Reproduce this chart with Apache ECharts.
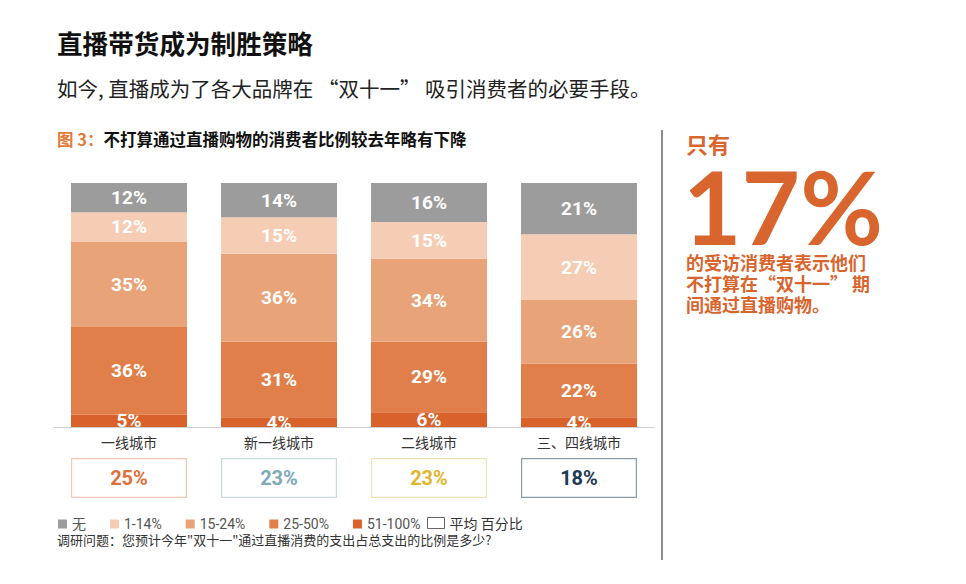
<!DOCTYPE html>
<html><head><meta charset="utf-8">
<script src="https://cdn.jsdelivr.net/npm/echarts@6/dist/echarts.min.js"></script>
<style>html,body{margin:0;padding:0;background:#fff}#c{width:966px;height:584px}</style>
</head><body><div id="c"></div>
<script>
const categories = ['一线城市', '新一线城市', '二线城市', '三、四线城市'];
const seriesNames = ['无', '1-14%', '15-24%', '25-50%', '51-100%'];
const none = [12, 14, 16, 21];
const p1_14 = [12, 15, 15, 27];
const p15_24 = [35, 36, 34, 26];
const p25_50 = [36, 31, 29, 22];
const p51_100 = [5, 4, 6, 4];
const averages = [25, 23, 23, 18];
const avgName = '平均 百分比';
const colors = ['#9c9c9c', '#f5cdb5', '#e8a478', '#e17f4b', '#d9622c'];
const avgText = ['#df6f3b', '#7ea9b9', '#e2b62c', '#1d3a55'];
const avgBorder = ['#f2c8b4', '#cbd8de', '#f0e2b4', '#8c9aa6'];

const stackData = [p51_100, p25_50, p15_24, p1_14, none];
const stackNames = ['51-100%', '25-50%', '15-24%', '1-14%', '无'];
const stackColors = [colors[4], colors[3], colors[2], colors[1], colors[0]];

const chart = echarts.init(document.getElementById('c'), null, {renderer: 'svg'});
const FONT = '"Noto Sans CJK SC", "Noto Sans", sans-serif';
const NUM = 'Roboto, "Noto Sans CJK SC", sans-serif';

const series = stackData.map((d, i) => ({
  name: stackNames[i], type: 'bar', stack: 'all', barWidth: 116,
  xAxisIndex: 0, yAxisIndex: 0,
  itemStyle: {color: stackColors[i]},
  label: {show: true, position: 'inside', color: '#fff', fontFamily: NUM, fontWeight: 'bold', fontSize: 19, formatter: '{c}%'},
  data: d
}));
series.push({
  name: avgName, type: 'bar', barWidth: 116, xAxisIndex: 1, yAxisIndex: 1,
  itemStyle: {color: '#fff', borderColor: '#777', borderWidth: 1},
  label: {show: true, position: 'inside', fontFamily: NUM, fontWeight: 'bold', fontSize: 20,
    formatter: p => averages[p.dataIndex] + '%'},
  data: averages.map((v, i) => ({value: 1, itemStyle: {borderColor: avgBorder[i], borderWidth: 1.2}, label: {color: avgText[i]}}))
});

chart.setOption({
  backgroundColor: '#fff',
  animation: false,
  grid: [
    {left: 54, width: 600, top: 183, height: 244},
    {left: 54, width: 600, top: 458, height: 40}
  ],
  xAxis: [
    {type: 'category', gridIndex: 0, data: categories,
      axisLine: {lineStyle: {color: '#cfcfcf', width: 1}}, axisTick: {show: false},
      axisLabel: {color: '#333', fontSize: 14, margin: 8, fontFamily: FONT}},
    {type: 'category', gridIndex: 1, data: categories, show: false}
  ],
  yAxis: [
    {type: 'value', gridIndex: 0, min: 0, max: 100, show: false},
    {type: 'value', gridIndex: 1, min: 0, max: 1, show: false}
  ],
  legend: [
    {left: 53, top: 512, icon: 'rect', itemWidth: 9, itemHeight: 9, itemGap: 24,
      data: seriesNames, textStyle: {color: '#555', fontSize: 14, fontFamily: NUM}},
    {left: 422, top: 511, itemWidth: 17, itemHeight: 11, icon: 'rect',
      data: [{name: avgName, itemStyle: {color: '#fff', borderColor: '#666', borderWidth: 1}}],
      textStyle: {color: '#333', fontSize: 14, fontFamily: FONT}}
  ],
  series: series,
  graphic: [
    {type: 'text', left: 57, top: 30, style: {text: '直播带货成为制胜策略', fill: '#111', font: 'bold 25.6px ' + FONT}},
    {type: 'text', left: 57, top: 78, style: {text: '如今, 直播成为了各大品牌在 “双十一” 吸引消费者的必要手段。', fill: '#222', font: '20.5px ' + FONT}},
    {type: 'text', left: 57, top: 131, style: {rich: {a: {fill: '#e27a3a', font: 'bold 16.5px ' + FONT}, b: {fill: '#111', font: 'bold 16.5px ' + FONT}}, text: '{a|图 3：}{b|不打算通过直播购物的消费者比例较去年略有下降}'}},
    {type: 'text', left: 57, top: 533, style: {text: '调研问题：您预计今年"双十一"通过直播消费的支出占总支出的比例是多少?', fill: '#333', font: '13px ' + FONT}},
    {type: 'line', shape: {x1: 662, y1: 130, x2: 662, y2: 560}, style: {stroke: '#666', lineWidth: 1.5}},
    {type: 'text', left: 686, top: 131, style: {text: '只有', fill: '#d9652e', font: 'bold 22px ' + FONT, lineHeight: 24}},
    {type: 'text', left: 683, top: 155, style: {text: '17%', fill: '#d9652e', font: 'bold 101px Lato, Roboto, sans-serif', lineHeight: 76}},
    {type: 'text', left: 686, top: 251, style: {text: '的受访消费者表示他们\n不打算在“双十一” 期\n间通过直播购物。', fill: '#d9652e', font: 'bold 18px ' + FONT, lineHeight: 21}}
  ]
});
</script></body></html>
